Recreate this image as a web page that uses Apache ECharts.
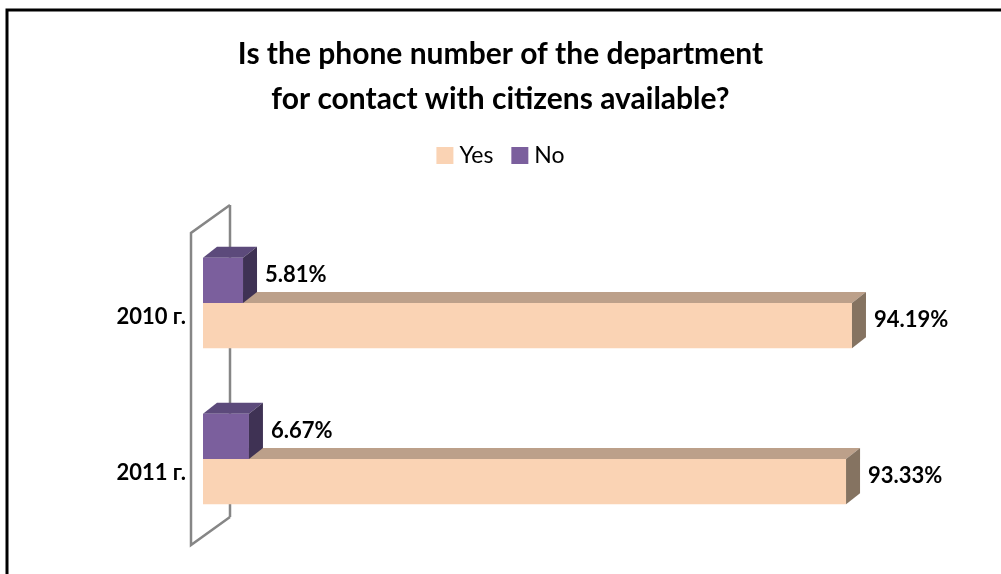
<!DOCTYPE html>
<html><head><meta charset="utf-8">
<script src="https://cdn.jsdelivr.net/npm/echarts@6/dist/echarts.min.js"></script>
<style>html,body{margin:0;padding:0;background:#fff}#c{width:1001px;height:574px}</style>
</head><body><div id="c"></div>
<script>
var categories = ['2010 г.', '2011 г.'];
var yesValues = [94.19, 93.33];
var noValues = [5.81, 6.67];
var seriesNames = ['Yes', 'No'];
var titleText = 'Is the phone number of the department\nfor contact with citizens available?';

var FONT = 'Lato, Carlito, Calibri, sans-serif';
var DX = 14, DY = -11;
var colors = {
  Yes: {front: '#FAD3B4', top: '#BCA08A', side: '#857361'},
  No: {front: '#7B5F9D', top: '#5C4A7B', side: '#3F3254'}
};

function barRenderer(name, slot) {
  var c = colors[name];
  return function (params, api) {
    var cat = api.value(1);
    var val = api.value(0);
    var p0 = api.coord([0, cat]);
    var p1 = api.coord([val, cat]);
    var band = api.size([0, 1])[1];
    var h = band * 0.29;
    var x0 = p0[0], x1 = p1[0];
    var yTop = slot === 0 ? p0[1] : p0[1] - h;
    var yBot = yTop + h;
    var front = {type: 'rect', shape: {x: x0, y: yTop, width: x1 - x0, height: h}, style: {fill: c.front}};
    var top = {type: 'polygon', shape: {points: [[x0, yTop], [x0 + DX, yTop + DY], [x1 + DX, yTop + DY], [x1, yTop]]}, style: {fill: c.top}};
    var side = {type: 'polygon', shape: {points: [[x1, yTop], [x1 + DX, yTop + DY], [x1 + DX, yBot + DY], [x1, yBot]]}, style: {fill: c.side}};
    var label = {type: 'text', style: {
      x: x1 + DX + 8, y: (yTop + yBot + DY) / 2,
      text: val.toFixed(2) + '%', fill: '#000',
      font: 'bold 22px ' + FONT, verticalAlign: 'middle', align: 'left'
    }};
    return {type: 'group', children: [top, front, side, label]};
  };
}

function wallRenderer(params, api) {
  var a = api.coord([0, 0]);
  var band = api.size([0, 1])[1];
  var gTop = a[1] - band / 2;
  var gBot = gTop + band * categories.length;
  var x0 = a[0];
  var fx = x0 - 12, bx = x0 + 27;
  var pts = [[fx, gTop + 8], [bx, gTop - 20], [bx, gBot - 20], [fx, gBot + 8]];
  return {type: 'group', children: [
    {type: 'polyline', shape: {points: [pts[1], pts[0], pts[3], pts[2]]}, style: {stroke: '#868686', lineWidth: 2.5, fill: null}},
    {type: 'line', shape: {x1: bx, y1: gTop - 20, x2: bx, y2: gBot - 20}, style: {stroke: '#868686', lineWidth: 2.5}}
  ]};
}

var chart = echarts.init(document.getElementById('c'), null, {renderer: 'canvas'});
chart.setOption({
  animation: false,
  backgroundColor: '#fff',
  title: {
    text: titleText, left: 'center', top: 32, padding: 0,
    textStyle: {fontFamily: FONT, fontWeight: 'bold', fontSize: 30, lineHeight: 45, color: '#000'}
  },
  legend: {
    data: seriesNames, top: 139, left: 'center', icon: 'rect', itemWidth: 17, itemHeight: 17, itemGap: 18,
    textStyle: {fontFamily: FONT, fontSize: 23, color: '#000', padding: [0, 0, 0, 1]}
  },
  graphic: [{type: 'rect', shape: {x: 7, y: 10, width: 1100, height: 700}, style: {fill: null, stroke: '#000', lineWidth: 3}, silent: true}],
  grid: {left: 203, right: 109, top: 225, bottom: 37},
  xAxis: {type: 'value', min: 0, max: 100, show: false},
  yAxis: {
    type: 'category', data: categories, inverse: true,
    axisLine: {show: false}, axisTick: {show: false}, splitLine: {show: false},
    axisLabel: {margin: 17, verticalAlign: 'top', lineHeight: 27, fontFamily: FONT, fontWeight: 'bold', fontSize: 22, color: '#000'}
  },
  series: [
    {type: 'custom', name: 'wall', z: 1, data: [[0, 0]], encode: {x: 0, y: 1}, renderItem: wallRenderer, silent: true},
    {type: 'custom', name: 'Yes', z: 2, itemStyle: {color: colors.Yes.front},
      data: yesValues.map(function (v, i) { return [v, i]; }), encode: {x: 0, y: 1}, renderItem: barRenderer('Yes', 0)},
    {type: 'custom', name: 'No', z: 3, itemStyle: {color: colors.No.front},
      data: noValues.map(function (v, i) { return [v, i]; }), encode: {x: 0, y: 1}, renderItem: barRenderer('No', 1)}
  ]
});
</script></body></html>
